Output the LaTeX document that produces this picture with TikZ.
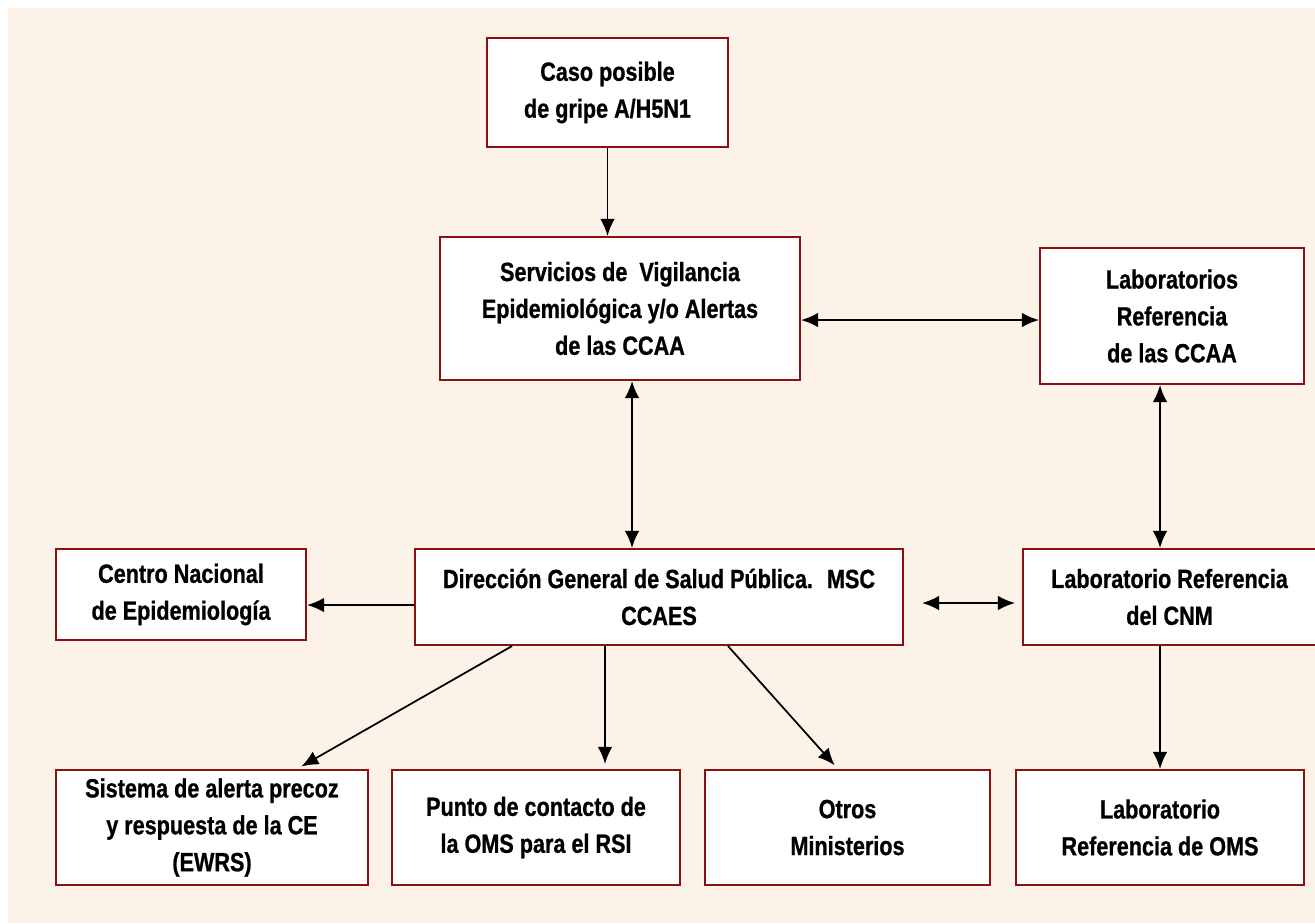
\documentclass[tikz,border=0pt]{standalone}
\usepackage{fontspec}
\setmainfont{Liberation Sans}[FakeStretch=0.82, BoldFeatures={FakeBold=0.8}]
\usetikzlibrary{arrows.meta}
\definecolor{bgcream}{HTML}{FDF2E8}
\definecolor{boxred}{HTML}{8B1010}

\begin{document}
\begin{tikzpicture}
\tikzstyle{box}=[rectangle, draw=boxred, fill=white, line width=1.2pt, align=center, font=\fontsize{15}{21}\selectfont\bfseries, inner sep=2pt]
\tikzstyle{link}=[line width=1pt, >={Latex[length=3.4mm,width=2.9mm]}]

% Background
\useasboundingbox (0,0) rectangle (26.3,-18.46);
\fill[white] (0,0) rectangle (26.3,-18.46);
\fill[bgcream] (0.16,-0.16) rectangle (26.3,-18.46);

% Top
\node at (12.15, -1.85) [box, minimum width=4.82cm, minimum height=2.18cm] (caso) {Caso posible\\de gripe A/H5N1};
\node at (12.4, -6.17) [box, minimum width=7.2cm, minimum height=2.86cm] (servicios) {Servicios de~ Vigilancia\\Epidemiológica y/o Alertas\\de las CCAA};
\node at (23.44, -6.32) [box, minimum width=5.28cm, minimum height=2.72cm] (labccaa) {Laboratorios\\Referencia\\de las CCAA};

% Middle
\node at (3.62, -11.89) [box, minimum width=5cm, minimum height=1.82cm] (centro) {Centro Nacional\\de Epidemiología};
\node at (13.18, -11.94) [box, minimum width=9.76cm, minimum height=1.92cm] (dgsp) {Dirección General de Salud Pública.~ MSC\\CCAES};
\node at (23.39, -11.94) [box, minimum width=5.86cm, minimum height=1.92cm] (labcnm) {Laboratorio Referencia\\del CNM};

% Bottom
\node at (4.24, -16.55) [box, minimum width=6.24cm, minimum height=2.3cm] (sistema) {Sistema de alerta precoz\\y respuesta de la CE\\(EWRS)};
\node at (10.72, -16.55) [box, minimum width=5.76cm, minimum height=2.3cm] (punto) {Punto de contacto de\\la OMS para el RSI};
\node at (16.95, -16.55) [box, minimum width=5.7cm, minimum height=2.3cm] (otros) {Otros\\Ministerios};
\node at (23.2, -16.55) [box, minimum width=5.76cm, minimum height=2.3cm] (laboms) {Laboratorio\\Referencia de OMS};

% Arrows
\draw [link, ->] (caso.south) -- (caso.south |- servicios.north);
\draw [link, <->] ([yshift=-0.23cm]servicios.east) -- ([yshift=-0.23cm]servicios.east -| labccaa.west);
\draw [link, <->] ([xshift=0.24cm]servicios.south) -- ([xshift=0.24cm]servicios.south |- dgsp.north);
\draw [link, <->] ([xshift=-0.24cm]labccaa.south) -- ([xshift=-0.24cm]labccaa.south |- labcnm.north);
\draw [link, ->] ([yshift=-0.16cm]dgsp.west) -- ([yshift=-0.16cm]dgsp.west -| centro.east);
\draw [link, <->, shorten <=0.36cm, shorten >=0.14cm] ([yshift=-0.12cm]dgsp.east) -- ([yshift=-0.12cm]dgsp.east -| labcnm.west);
\draw [link, ->] ([xshift=-0.19cm]labcnm.south) -- ([xshift=-0.19cm]labcnm.south |- laboms.north);

\draw [link, ->, shorten >=0.1cm] ([xshift=-2.94cm]dgsp.south) -- ([xshift=1.7cm]sistema.north);
\draw [link, ->, shorten >=0.1cm] ([xshift=-1.08cm]dgsp.south) -- ([xshift=-1.08cm]dgsp.south |- punto.north);
\draw [link, ->, shorten >=0.1cm] ([xshift=1.38cm]dgsp.south) -- ([xshift=-0.19cm]otros.north);
\end{tikzpicture}
\end{document}
